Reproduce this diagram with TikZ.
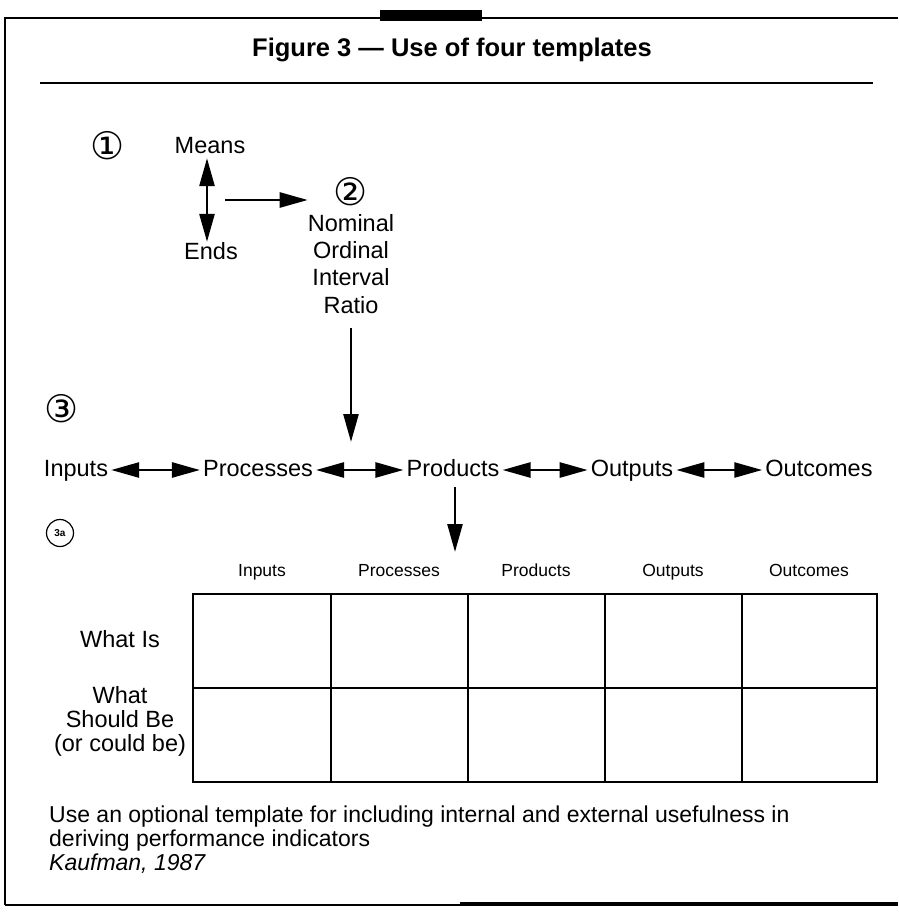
\documentclass[tikz,border=0pt]{standalone}
\usepackage{fontspec}
\setmainfont{Liberation Sans}
\newfontfamily\circfont{DejaVu Sans}
\usetikzlibrary{arrows.meta, positioning}

\tikzset{
  word/.style={inner sep=0pt, text height=17pt, text depth=5pt, font=\fontsize{23.5}{24}\selectfont},
  head/.style={inner sep=0pt, text height=13pt, text depth=4pt, font=\fontsize{17.5}{20}\selectfont},
  circnum/.style={inner sep=0pt, font=\circfont\fontsize{38}{38}\selectfont},
  link/.style={line width=2.6pt, shorten >=3pt, shorten <=3pt}
}

\begin{document}
\begin{tikzpicture}[x=1pt, y=-1pt, >={Triangle[length=28pt, width=15pt]}]

            \useasboundingbox (0,0) rectangle (898,913);

            % frame and title
            \draw[line width=1.5pt] (898,18) -- (5,18) -- (5,905);
            \draw[line width=2pt] (5,905) -- (898,905);
            \draw[line width=4pt] (460,904) -- (898,904);
            \fill (380,10) rectangle (482,21);
            \node[inner sep=0pt, font=\bfseries\fontsize{25.5}{26}\selectfont] (title) at (452,50) {Figure 3 — Use of four templates};
            \draw[line width=1.2pt] (40,83) -- (873,83);

            % template 1 and 2
            \node[circnum] (one) at (108,146) {①};
            \node[word] (means) at (210,147) {Means};
            \node[word] (ends) at (211,253) {Ends};
            \node[circnum] (two) at (351,192) {②};
            \node[word] (nominal) at (351,225) {Nominal};
            \node[word, below=5pt of nominal] (ordinal) {Ordinal};
            \node[word, below=5pt of ordinal] (interval) {Interval};
            \node[word, below=5pt of interval] (ratio) {Ratio};
            \coordinate (mid) at (225,200);

            \draw[<->, line width=2.6pt] (means.south -| 207,0) -- (ends.north -| 207,0);
            \draw[->, line width=2.6pt] (mid) -- (nominal.west |- mid);

            % template 3
            \node[circnum] (three) at (62,409) {③};
            \node[word] (inputs) at (76,470) {Inputs};
            \node[word] (processes) at (258,470) {Processes};
            \node[word] (products) at (453,470) {Products};
            \node[word] (outputs) at (632,470) {Outputs};
            \node[word] (outcomes) at (819,470) {Outcomes};

            \draw[->, line width=2.6pt] (ratio.south) ++(0,10) coordinate (drop) -- (drop |- 0,442);
            \draw[<->, link] (inputs) -- (processes);
            \draw[<->, link] (processes) -- (products);
            \draw[<->, link] (products) -- (outputs);
            \draw[<->, link] (outputs) -- (outcomes);
            \draw[->, line width=2.6pt] (products.south -| 455,0) ++(0,6) -- (455,552);

            % template 3a
            \node[draw, circle, line width=1.2pt, minimum size=27pt, inner sep=0pt, font=\bfseries\fontsize{10}{10}\selectfont] (threea) at (60,533) {3a};

            \foreach \name/\x in {Inputs/262, Processes/399, Products/536, Outputs/673, Outcomes/809}
              \node[head] (h\name) at (\x,572) {\name};

            \draw[line width=1.5pt] (193,594) rectangle (877,782);
            \draw[line width=1.5pt] (193,688) -- (877,688);
            \foreach \x in {331,468,605,742}
              \draw[line width=1.3pt] (\x,594) -- (\x,782);

            \node[word] (whatis) at (120,641) {What Is};
            \node[word, align=center] (shouldbe) at (120,745) {What\\Should Be\\(or could be)};

            % caption
            \node[anchor=west, inner sep=0pt, align=left, font=\fontsize{23}{24}\selectfont] (note) at (49,840)
              {Use an optional template for including internal and external usefulness in\\
               deriving performance indicators\\
               \itshape Kaufman, 1987};

\end{tikzpicture}
\end{document}
